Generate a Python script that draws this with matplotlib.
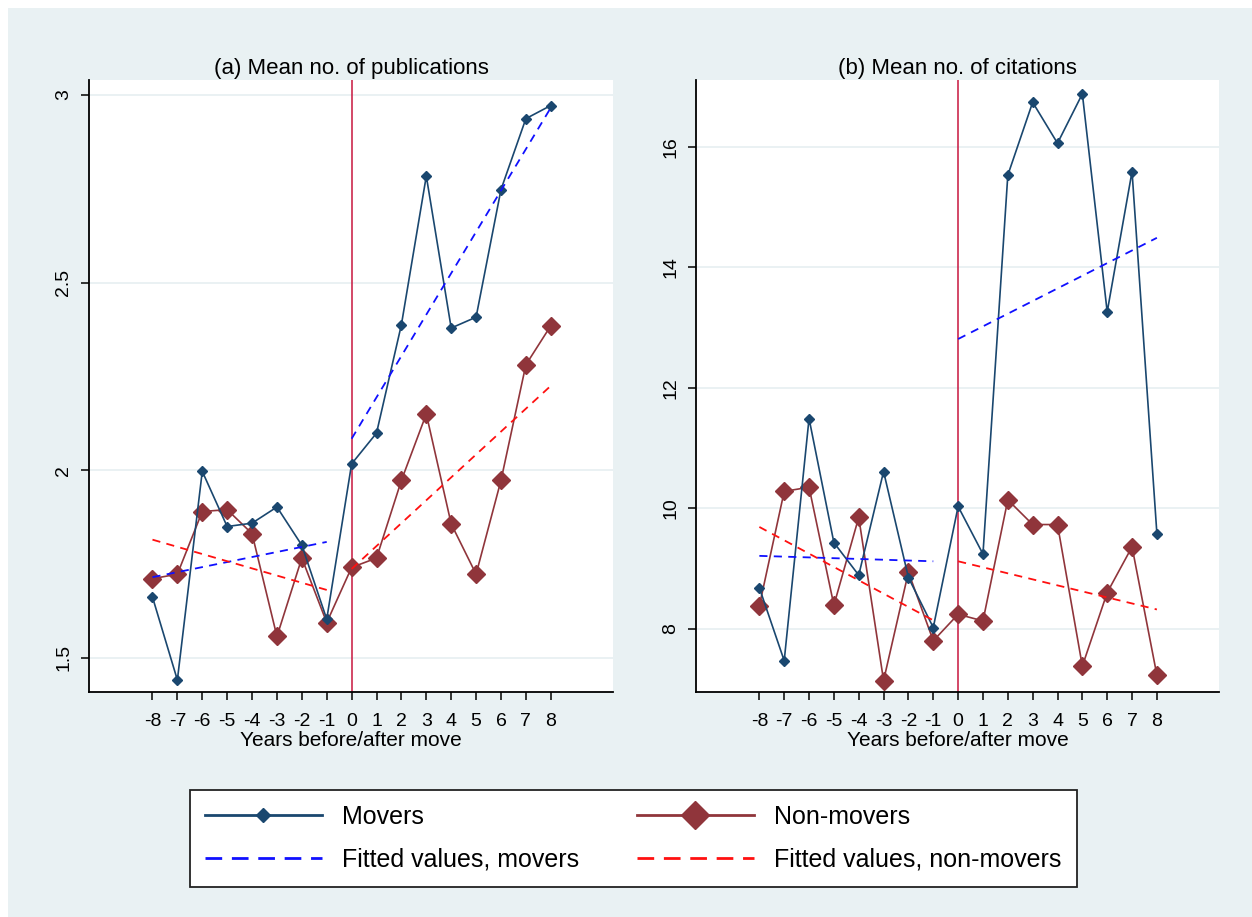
import matplotlib
matplotlib.use("Agg")
import matplotlib.pyplot as plt
from matplotlib.lines import Line2D
from matplotlib.patches import Rectangle

plt.rcParams['font.family'] = ['Liberation Sans', 'DejaVu Sans']

# ---------------- data ----------------
years = [-8, -7, -6, -5, -4, -3, -2, -1, 0, 1, 2, 3, 4, 5, 6, 7, 8]
year_labels = [str(y) for y in years]

pub_movers = [1.662, 1.441, 1.997, 1.850, 1.859, 1.902, 1.800, 1.603,
              2.017, 2.099, 2.388, 2.784, 2.379, 2.408, 2.748, 2.937, 2.972]
pub_nonmovers = [1.711, 1.723, 1.890, 1.895, 1.831, 1.557, 1.766, 1.594,
                 1.741, 1.766, 1.973, 2.150, 1.857, 1.723, 1.973, 2.281, 2.385]

cit_movers = [8.68, 7.47, 11.49, 9.43, 8.89, 10.61, 8.85, 8.02,
              10.03, 9.24, 15.53, 16.74, 16.06, 16.88, 13.26, 15.59, 9.58]
cit_nonmovers = [8.38, 10.28, 10.35, 8.39, 9.85, 7.14, 8.94, 7.80,
                 8.24, 8.13, 10.14, 9.73, 9.73, 7.38, 8.60, 9.36, 7.23]

# fitted values (segment end points, before: -8..-1, after: 0..8)
fit_x_pre = [-8, -1]
fit_x_post = [0, 8]
pub_fit_movers_pre = [1.715, 1.809]
pub_fit_movers_post = [2.084, 2.966]
pub_fit_non_pre = [1.815, 1.681]
pub_fit_non_post = [1.737, 2.225]
cit_fit_movers_pre = [9.21, 9.12]
cit_fit_movers_post = [12.81, 14.49]
cit_fit_non_pre = [9.69, 8.14]
cit_fit_non_post = [9.12, 8.32]

pub_yticks = [1.5, 2, 2.5, 3]
pub_yticklabels = ["1.5", "2", "2.5", "3"]
cit_yticks = [8, 10, 12, 14, 16]
cit_yticklabels = ["8", "10", "12", "14", "16"]

titles = ["(a) Mean no. of publications", "(b) Mean no. of citations"]
xlabel = "Years before/after move"
legend_labels = ["Movers", "Fitted values, movers", "Non-movers", "Fitted values, non-movers"]

# ---------------- style ----------------
BG = "#e9f1f3"
GRID = "#e6eff1"
NAVY = "#1a476f"
MAROON = "#90353b"
FIT_BLUE = "#1010ff"
FIT_RED = "#ff1010"
VLINE = "#c8163f"
DASH = (0, (4.5, 3.5))

W, H = 1252, 917
fig = plt.figure(figsize=(W / 100, H / 100), dpi=100)
fig.patch.set_facecolor("white")
fig.patches.append(Rectangle((8 / W, 0), 1 - 8 / W, 1 - 8 / H, transform=fig.transFigure,
                             facecolor=BG, edgecolor="none", zorder=-10))

def px_axes(l, t, r, b):
    return [l / W, 1 - b / H, (r - l) / W, (b - t) / H]

ax1 = fig.add_axes(px_axes(89, 80, 613, 692))
ax2 = fig.add_axes(px_axes(696, 80, 1219, 692))

panels = [
    (ax1, pub_movers, pub_nonmovers,
     (pub_fit_movers_pre, pub_fit_movers_post, pub_fit_non_pre, pub_fit_non_post),
     pub_yticks, pub_yticklabels, (1.409, 3.04)),
    (ax2, cit_movers, cit_nonmovers,
     (cit_fit_movers_pre, cit_fit_movers_post, cit_fit_non_pre, cit_fit_non_post),
     cit_yticks, cit_yticklabels, (6.95, 17.11)),
]

for i, (ax, mov, non, fits, yt, ytl, ylim) in enumerate(panels):
    ax.set_facecolor("white")
    ax.set_xlim(-10.55, 10.5)
    ax.set_ylim(*ylim)
    for y in yt:
        ax.axhline(y, color=GRID, lw=1.2, zorder=0)
    ax.axvline(0, color=VLINE, lw=1.1, zorder=1)
    ax.plot(years, mov, color=NAVY, lw=1.2, marker="D", ms=5.5, zorder=4)
    ax.plot(years, non, color=MAROON, lw=1.2, marker="D", ms=9, zorder=3)
    ax.plot(fit_x_pre, fits[0], color=FIT_BLUE, lw=1.3, ls=DASH, zorder=5)
    ax.plot(fit_x_post, fits[1], color=FIT_BLUE, lw=1.3, ls=DASH, zorder=5)
    ax.plot(fit_x_pre, fits[2], color=FIT_RED, lw=1.3, ls=DASH, zorder=5)
    ax.plot(fit_x_post, fits[3], color=FIT_RED, lw=1.3, ls=DASH, zorder=5)

    ax.set_xticks(years)
    ax.set_xticklabels(year_labels, fontsize=14)
    ax.set_yticks(yt)
    ax.set_yticklabels(ytl, fontsize=14, rotation=90, va="center")
    ax.tick_params(axis="both", direction="out", length=6, width=1.1, colors="black")
    ax.tick_params(axis="y", pad=6)
    ax.tick_params(axis="x", pad=9)
    for s in ["top", "right"]:
        ax.spines[s].set_visible(False)
    for s in ["left", "bottom"]:
        ax.spines[s].set_linewidth(1.3)
    ax.set_title(titles[i], fontsize=16, pad=4)
    ax.set_xlabel(xlabel, fontsize=15, labelpad=1)

handles = [
    Line2D([], [], color=NAVY, lw=2, marker="D", ms=7.5),
    Line2D([], [], color=FIT_BLUE, lw=2, ls=(0, (6, 3.5))),
    Line2D([], [], color=MAROON, lw=2, marker="D", ms=14),
    Line2D([], [], color=FIT_RED, lw=2, ls=(0, (6, 3.5))),
]
leg = fig.legend(handles, legend_labels, loc="center",
                 bbox_to_anchor=(633 / W, 1 - 838.5 / H), ncol=2,
                 fontsize=18, handlelength=4.7, handletextpad=0.8,
                 columnspacing=2.3, labelspacing=0.75, borderpad=0.6,
                 frameon=True, fancybox=False, edgecolor="#222222", facecolor="white",
                 framealpha=1)
leg.get_frame().set_linewidth(1.3)

fig.savefig("out.png", dpi=100, facecolor=fig.get_facecolor())
